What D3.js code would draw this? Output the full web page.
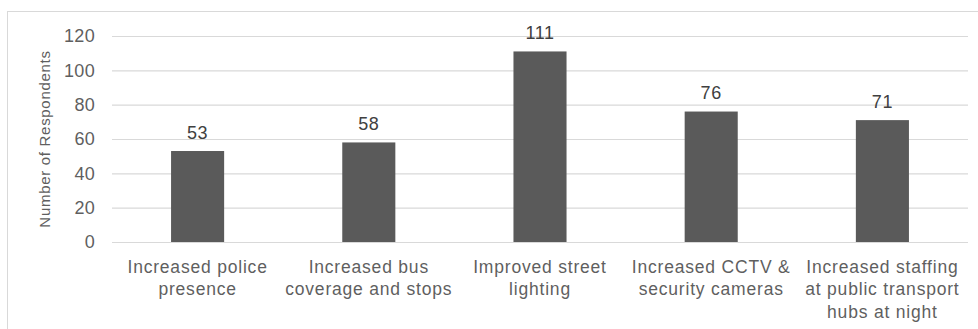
<!DOCTYPE html>
<html><head><meta charset="utf-8">
<script src="https://cdn.jsdelivr.net/npm/d3@7"></script>
<style>
html,body{margin:0;padding:0;background:#fff;}
svg{display:block;font-family:"Liberation Sans",Arial,sans-serif;}
</style></head>
<body><svg id="c" width="978" height="329"></svg>
<script>
const categories = [
  ["Increased police", "presence"],
  ["Increased bus", "coverage and stops"],
  ["Improved street", "lighting"],
  ["Increased CCTV &", "security cameras"],
  ["Increased staffing", "at public transport", "hubs at night"]
];
const values = [53, 58, 111, 76, 71];
const yTicks = [0, 20, 40, 60, 80, 100, 120];
const yTitle = "Number of Respondents";

const svg = d3.select("#c");
const W = 978, H = 329;
const m = {left: 112, right: 10, top: 36, bottom: 87};

svg.append("rect").attr("x", 7.5).attr("y", 11.5).attr("width", 990).attr("height", 340)
  .attr("fill", "#fff").attr("stroke", "#d9d9d9").attr("stroke-width", 1);

const x = d3.scaleBand().domain(d3.range(values.length)).range([m.left, W - m.right]).paddingInner(0.69).paddingOuter(0.345);
const y = d3.scaleLinear().domain([0, 120]).range([H - m.bottom, m.top]);

const yAxis = svg.append("g").attr("transform", `translate(${m.left},0)`)
  .call(d3.axisLeft(y).tickValues(yTicks).tickSize(-(W - m.right - m.left)).tickPadding(17));
yAxis.select(".domain").remove();
yAxis.selectAll(".tick line").attr("stroke", "#d9d9d9").attr("stroke-width", 1.2);
yAxis.selectAll(".tick text").attr("fill", "#5f5f5f").style("font-size", "18px")
  .style("letter-spacing", "0.3px").style("font-family", '"Liberation Sans",Arial,sans-serif');

svg.append("g").selectAll("rect").data(values).join("rect")
  .attr("x", (d, i) => x(i)).attr("width", x.bandwidth())
  .attr("y", d => y(d)).attr("height", d => y(0) - y(d))
  .attr("fill", "#5a5a5a");

svg.append("g").selectAll("text").data(values).join("text")
  .attr("x", (d, i) => x(i) + x.bandwidth() / 2).attr("y", d => y(d) - 12.5)
  .attr("text-anchor", "middle").attr("fill", "#404040").style("font-size", "18px")
  .style("letter-spacing", "0.6px")
  .text(d => d);

const labels = svg.append("g");
categories.forEach((lines, i) => {
  const t = labels.append("text").attr("text-anchor", "middle").attr("fill", "#5f5f5f")
    .style("font-size", "17.5px").style("letter-spacing", "0.8px");
  lines.forEach((ln, j) => {
    t.append("tspan").attr("x", x(i) + x.bandwidth() / 2).attr("y", 272.5 + j * 22.5).text(ln);
  });
});

svg.append("text").attr("transform", `translate(50,${(y(0) + y(120)) / 2}) rotate(-90)`)
  .attr("text-anchor", "middle").attr("fill", "#5f5f5f").style("font-size", "15px")
  .style("letter-spacing", "0.7px").text(yTitle);
</script></body></html>
